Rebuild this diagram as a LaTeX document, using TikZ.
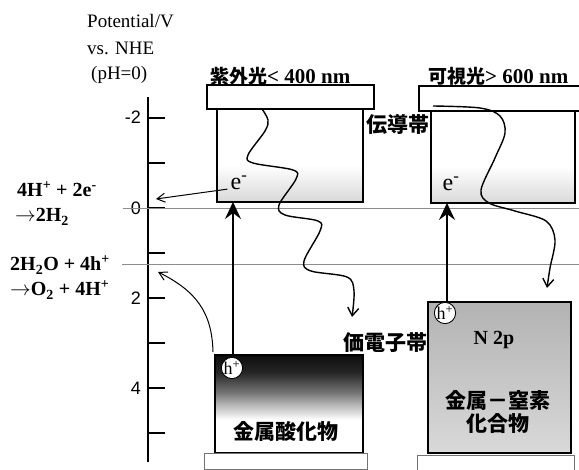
\documentclass[tikz,border=0pt]{standalone}
\usepackage{fontspec}
\setmainfont{Liberation Serif}
\newfontfamily\jp{Noto Sans CJK JP}
\newfontfamily\ticksans{Liberation Sans}
\usetikzlibrary{arrows.meta}
\pgfdeclareverticalshading{oxshade}{100bp}{color(0bp)=(white); color(25bp)=(white); color(42bp)=(white); color(50bp)=(black!30); color(56bp)=(black!55); color(66bp)=(black!85); color(75bp)=(black!95); color(100bp)=(black!95)}
\pgfdeclareverticalshading{nshade}{100bp}{color(0bp)=(black!15); color(25bp)=(black!15); color(75bp)=(black!30); color(100bp)=(black!30)}
\pgfdeclareverticalshading{cbshade}{100bp}{color(0bp)=(black!15); color(25bp)=(black!15); color(33bp)=(black!9); color(45bp)=(white); color(100bp)=(white)}
\begin{document}
\begin{tikzpicture}[x=1pt,y=-1pt,
  frame/.style={draw, line width=1.3pt, anchor=north west, inner sep=0pt, outer sep=0pt},
  basebox/.style={draw=black!55, line width=0.7pt, anchor=north west, inner sep=0pt, fill=white},
  jplab/.style={font=\jp\bfseries\fontsize{21}{23}\selectfont, inner sep=0pt},
  rlab/.style={font=\bfseries\fontsize{20}{22}\selectfont, inner sep=0pt, anchor=base west},
  axlab/.style={font=\fontsize{19}{21}\selectfont, inner sep=0pt, anchor=base west},
  ticklab/.style={font=\ticksans\fontsize{18}{20}\selectfont, inner sep=0pt, anchor=east},
  hole/.style={draw, circle, fill=white, line width=0.9pt, inner sep=0pt, minimum size=21pt, font=\fontsize{18}{18}\selectfont},
  elec/.style={font=\fontsize{24}{26}\selectfont, inner sep=0pt},
  refline/.style={draw=black!45, line width=0.6pt},
  wave/.style={line width=1.4pt, -{Straight Barb[length=8pt,width=11pt]}},
  excite/.style={line width=1.2pt, -{Stealth[length=17pt,width=16pt,inset=6pt]}},
  thinarrow/.style={line width=1pt, -{Straight Barb[length=8pt,width=9pt]}}
]
\useasboundingbox (0,0) rectangle (579,470);

% axis
\draw[line width=1.8pt] (148,97) -- (148,462);
\foreach \v in {-2,-1,0,1,2,3,4,5} {
  \draw[line width=1.3pt] (148,{208+45*\v}) -- (165,{208+45*\v});
}
\node[ticklab] (tm2) at (141,117) {-2};
\node[ticklab] (t0) at (141,208) {0};
\node[ticklab] (t2) at (141,298) {2};
\node[ticklab] (t4) at (141,388) {4};

% reference potentials
\draw[refline] (123,208) -- (579,208);
\draw[refline] (122,264) -- (579,264);

% axis title
\node[axlab] (pot) at (87,28) {Potential/V};
\node[axlab] (nhe) at (87,55) {vs. NHE};
\node[axlab] (ph) at (91,80) {(pH=0)};

% left material
\node[frame, fill=white, minimum width=167pt, minimum height=24pt] (lwin) at (207,85) {};
\node[frame, shading=cbshade, minimum width=146pt, minimum height=93pt] (lcb) at (217,109) {};
\node[frame, shading=oxshade, minimum width=148pt, minimum height=98pt] (lvb) at (215,355) {};
\node[basebox, minimum width=163pt, minimum height=16pt] (lbase) at (204,453) {};

% right material
\node[frame, fill=white, minimum width=175pt, minimum height=25pt] (rwin) at (419,86) {};
\node[frame, shading=cbshade, minimum width=144pt, minimum height=92pt] (rcb) at (431,111) {};
\node[frame, shading=nshade, minimum width=143pt, minimum height=151pt] (rvb) at (428,302) {};
\node[basebox, minimum width=157pt, minimum height=16pt] (rbase) at (417,455) {};

% light labels
\node[anchor=base west, inner sep=0pt] (uv) at (210,84) {{\jp\bfseries\fontsize{19}{20}\selectfont 紫外光}{\bfseries\fontsize{21}{22}\selectfont< 400 nm}};
\node[anchor=base west, inner sep=0pt] (vis) at (428,84) {{\jp\bfseries\fontsize{19}{20}\selectfont 可視光}{\bfseries\fontsize{21}{22}\selectfont> 600 nm}};

% band labels
\node[jplab, anchor=west] (cbl) at (366,124) {伝導帯};
\node[jplab, anchor=west] (vbl) at (343,343) {価電子帯};
\node[jplab] (oxl) at (286,431) {金属酸化物};
\node[font=\bfseries\fontsize{20}{22}\selectfont, inner sep=0pt] (n2p) at (494,340) {N 2p};
\node[jplab] (nit1) at (498,400) {金属－窒素};
\node[jplab] (nit2) at (498,424) {化合物};

% electrons and holes
\node[elec] (le) at (239,183) {e\textsuperscript{-}};
\node[elec] (re) at (451,184) {e\textsuperscript{-}};
\node[hole] (lh) at (232,368) {h\textsuperscript{+}};
\node[hole] (rh) at (445,313) {h\textsuperscript{+}};

% excitation arrows
\coordinate (lstart) at (233,355);
\coordinate (rstart) at (447,302);
\draw[excite] (lstart) -- (lstart |- lcb.south);
\draw[excite] (rstart) -- (rstart |- rcb.south);

% reactions
\node[rlab] (r1a) at (17,197) {4H\textsuperscript{+} + 2e\textsuperscript{-}};
\node[rlab] (r1b) at (15,222) {$\rightarrow$2H\textsubscript{2}};
\node[rlab] (r2a) at (10,271) {2H\textsubscript{2}O + 4h\textsuperscript{+}};
\node[rlab] (r2b) at (10,296) {$\rightarrow$O\textsubscript{2} + 4H\textsuperscript{+}};

\coordinate (hlevel) at (156,199);
\coordinate (olevel) at (158,272);
\draw[thinarrow] (le.south west) ++(-3,-1) -- (hlevel);
\draw[thinarrow] (lvb.north west) ++(-2,-3) .. controls (212,312) and (196,291) .. (olevel);

% photon waves
\draw[wave] plot[smooth, tension=0.55] coordinates {(262,109) (268,120) (265,131) (248,155) (253,163) (293,170) (296,179) (279,205) (285,215) (318,221) (320,231) (304,261) (311,271) (347,277) (354,291) (352,317)};
\draw[wave] plot[smooth, tension=0.55] coordinates {(433,106) (480,108) (500,116) (505,133) (495,158) (481,190) (489,203) (515,211) (546,221) (555,240) (550,268) (547,288)};
\end{tikzpicture}
\end{document}
